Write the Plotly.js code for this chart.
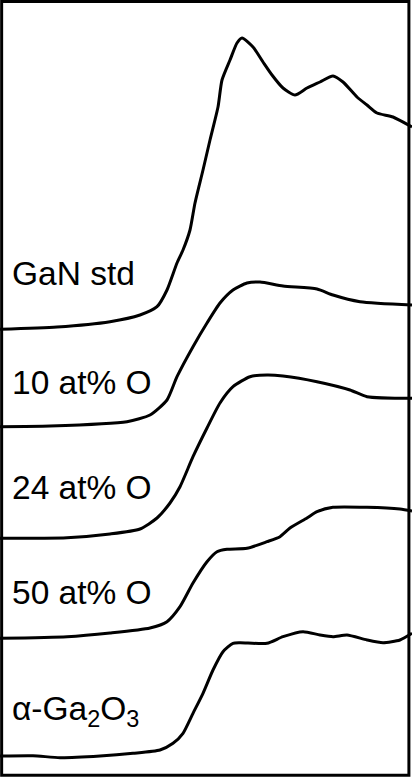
<!DOCTYPE html>
<html>
<head>
<meta charset="utf-8">
<script src="https://cdn.plot.ly/plotly-3.0.1.min.js"></script>
<style>html,body{margin:0;padding:0;background:#fff;}#chart{width:412px;height:777px;}</style>
</head>
<body>
<div id="chart"></div>
<script>
// Relative energy (a.u.) and absorption (a.u., offset stacked)
const labels = ["GaN std", "10 at% O", "24 at% O", "50 at% O", "α-Ga<sub>2</sub>O<sub>3</sub>"];
const labelY = [504, 395, 290, 184.5, 66];

const xGaN = [0,57,110,140,157,167,177,183,190,195,203,210,218,222,230,237,242,253,263,272,283,295,307,320,333,343,357,367,377,393,412];
const yGaN = [447.7,450,455.3,462,470.3,487,514,527,547,574,607,637,670,697,717,734,739,730,715,702,689,682,689,695,701,695,680,672,664,660,650];

const x10 = [0,50,127,150,167,177,193,207,220,233,247,260,283,317,333,360,412];
const y10 = [350.3,351,355.3,362,377,400.3,430.3,454,474,487,494,495,491,488,482,475.3,472];

const x24 = [0,67,110,140,157,170,180,193,207,220,233,250,267,283,317,350,367,412];
const y24 = [238.7,239.3,243,248,259,274,290.3,320.3,349,374,390.3,400.3,402,401,395.3,387,380.3,378.7];

const x50 = [0,67,110,150,167,180,193,207,217,227,247,267,280,290,307,317,333,367,400,412];
const y50 = [138.7,140.3,144,149,155.3,170.3,194,215.3,225.3,227.7,228.7,235.3,240.3,249,259,265.3,269.7,269.7,268,266];

const xGa2O3 = [0,33,60,100,133,160,173,183,193,203,213,223,233,240,267,283,303,320,333,347,367,383,400,412];
const yGa2O3 = [21,21.3,19.3,21,23.7,27,33.7,43.7,63.7,83.7,107,125.3,133.7,134.3,133.7,140.3,145.3,142,140.3,142,137,134.3,137,143.7];

const series = [[xGaN,yGaN],[x10,y10],[x24,y24],[x50,y50],[xGa2O3,yGa2O3]];
const traces = series.map(s => ({
  x: s[0], y: s[1], type: 'scatter', mode: 'lines',
  line: {color: '#000', width: 3, shape: 'spline', smoothing: 0.6},
  hoverinfo: 'skip', showlegend: false
}));

const annotations = labels.map((t, i) => ({
  text: t, x: 10, y: labelY[i], xref: 'x', yref: 'y',
  xanchor: 'left', yanchor: 'middle', showarrow: false,
  font: {family: 'Liberation Sans, Arial, sans-serif', size: 33.5, color: '#000'}
}));

const layout = {
  width: 412, height: 777,
  margin: {l: 0, r: 0, t: 0, b: 0, pad: 0},
  paper_bgcolor: '#fff', plot_bgcolor: '#fff',
  xaxis: {range: [0, 412], visible: false, fixedrange: true},
  yaxis: {range: [0, 777], visible: false, fixedrange: true},
  showlegend: false,
  annotations: annotations,
  shapes: [{type: 'rect', xref: 'paper', yref: 'paper', x0: 0.004, x1: 0.9925, y0: 0.0023, y1: 0.998,
            line: {color: '#000', width: 3}, fillcolor: 'rgba(0,0,0,0)'}]
};

Plotly.newPlot('chart', traces, layout, {staticPlot: true, displayModeBar: false});
</script>
</body>
</html>
